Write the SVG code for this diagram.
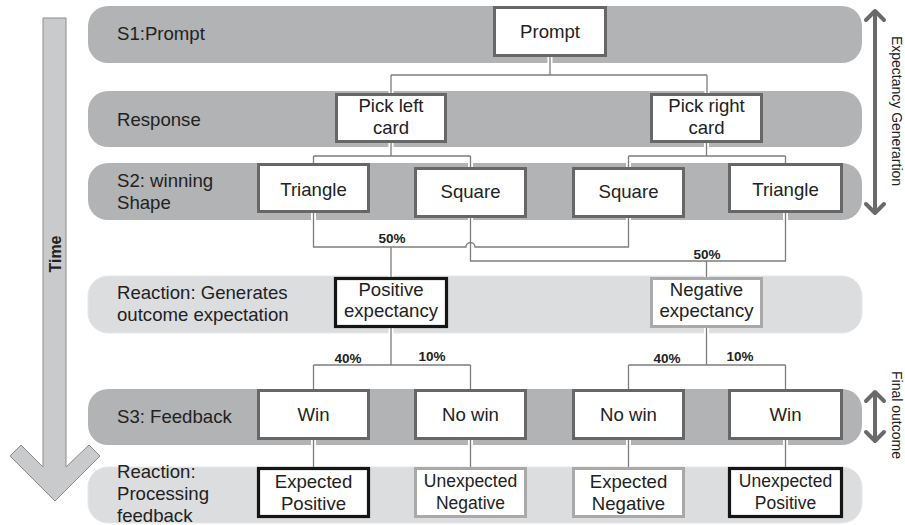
<svg xmlns="http://www.w3.org/2000/svg" width="905" height="525" viewBox="0 0 905 525">
<defs>
<style>
text{font-family:"Liberation Sans",Arial,sans-serif;fill:#222;}
.t{font-size:18.6px;}
.c{font-size:18.6px;text-anchor:middle;}
.cs{font-size:17.5px;text-anchor:middle;}
.p{font-size:13.5px;font-weight:bold;text-anchor:middle;}
.bd{fill:#b2b3b5;}
.bl{fill:#dcdddf;stroke:#e6e7e8;stroke-width:1;}
.n{fill:#fff;stroke:#676767;stroke-width:3;}
.nk{fill:#fff;stroke:#151515;stroke-width:3.2;}
.ng{fill:#fff;stroke:#a9a9a9;stroke-width:3;}
.halo{fill:none;stroke:#fff;stroke-width:5;}
.ln{fill:none;stroke:#7d7d7d;stroke-width:1.3;}
.da{fill:none;stroke:#6a6a6a;stroke-width:4;stroke-linecap:round;stroke-linejoin:round;}
</style>
</defs>
<rect width="905" height="525" fill="#fff"/>

<g id="bands">
<rect class="bd" x="88" y="6" width="774" height="57" rx="20"/>
<rect class="bd" x="88" y="91" width="774" height="56" rx="20"/>
<rect class="bd" x="88" y="163" width="774" height="57" rx="20"/>
<rect class="bl" x="88" y="276" width="774" height="57" rx="20"/>
<rect class="bd" x="88" y="389" width="774" height="56" rx="20"/>
<rect class="bl" x="88" y="467" width="774" height="56" rx="20"/>
<text class="t" x="117" y="40">S1:Prompt</text>
<text class="t" x="117" y="126">Response</text>
<text class="t" x="117" y="187">S2: winning</text>
<text class="t" x="117" y="209">Shape</text>
<text class="t" x="117" y="299">Reaction: Generates</text>
<text class="t" x="117" y="321">outcome expectation</text>
<text class="t" x="117" y="423">S3: Feedback</text>
<text class="t" x="117" y="478">Reaction:</text>
<text class="t" x="117" y="500">Processing</text>
<text class="t" x="117" y="522">feedback</text>
</g>

<g id="time-arrow">
<polygon points="43,18 66,18 66,467 89,445 100,456 55,501 10,456 21,445 43,467" fill="#c9cacc" stroke="#8c8c8c" stroke-width="1"/>
<text x="61" y="254" transform="rotate(-90 61 254)" style="font-size:16px;font-weight:bold;text-anchor:middle;">Time</text>
</g>

<g id="connectors">
<path class="halo" d="M550,57 V75 M391,75 H707 M391,75 V93 M707,75 V93 M391,143 V156 M313.5,156 H470.5 M313.5,156 V163 M470.5,156 V167 M706.5,143 V156 M628.5,156 H785.5 M628.5,156 V167 M785.5,156 V163 M313.5,213 V247 M628.5,218 V247 M391,247 V277 M470.5,218 V261 M785.5,213 V261 M470.5,261 H785.5 M706.5,261 V277 M391,328 V365 M313.5,365 H470.5 M313.5,365 V389 M470.5,365 V389 M706.5,328 V365 M628.5,365 H785.5 M628.5,365 V389 M785.5,365 V389 M313.5,440 V467 M470.5,440 V467 M628.5,440 V467 M785.5,440 V467"/>
<path class="ln" d="M550,57 V75 M391,75 H707 M391,75 V93 M707,75 V93 M391,143 V156 M313.5,156 H470.5 M313.5,156 V163 M470.5,156 V167 M706.5,143 V156 M628.5,156 H785.5 M628.5,156 V167 M785.5,156 V163 M313.5,213 V247 H466 A4.5,4.5 0 0 1 475,247 H628.5 V218 M391,247 V277 M470.5,218 V261 H785.5 V213 M706.5,261 V277 M391,328 V365 M313.5,365 H470.5 M313.5,365 V389 M470.5,365 V389 M706.5,328 V365 M628.5,365 H785.5 M628.5,365 V389 M785.5,365 V389 M313.5,440 V467 M470.5,440 V467 M628.5,440 V467 M785.5,440 V467"/>
<text class="p" x="392" y="243">50%</text>
<text class="p" x="707" y="259">50%</text>
<text class="p" x="348" y="363">40%</text>
<text class="p" x="432" y="361">10%</text>
<text class="p" x="667" y="363">40%</text>
<text class="p" x="740" y="361">10%</text>
</g>

<g id="prompt"><rect class="n" x="494.5" y="7.5" width="111" height="48"/><text class="c" x="550" y="38">Prompt</text></g>
<g id="pick-left"><rect class="n" x="336.5" y="94.5" width="109" height="47"/><text class="c" x="391" y="112">Pick left</text><text class="c" x="391" y="134">card</text></g>
<g id="pick-right"><rect class="n" x="651.5" y="94.5" width="110" height="47"/><text class="c" x="706.5" y="112">Pick right</text><text class="c" x="706.5" y="134">card</text></g>

<g id="triangle-left"><rect class="n" x="258.5" y="164.5" width="110" height="47"/><text class="c" x="313.5" y="196">Triangle</text></g>
<g id="square-left"><rect class="n" x="415.5" y="168.5" width="110" height="48"/><text class="c" x="470.5" y="198">Square</text></g>
<g id="square-right"><rect class="n" x="573.5" y="168.5" width="110" height="48"/><text class="c" x="628.5" y="198">Square</text></g>
<g id="triangle-right"><rect class="n" x="729.5" y="164.5" width="112" height="47"/><text class="c" x="785.5" y="196">Triangle</text></g>

<g id="positive-expectancy"><rect class="nk" x="335.5" y="278.5" width="111" height="48"/><text class="c" x="391" y="296">Positive</text><text class="c" x="391" y="317">expectancy</text></g>
<g id="negative-expectancy"><rect class="ng" x="651.5" y="278.5" width="110" height="48"/><text class="c" x="706.5" y="296">Negative</text><text class="c" x="706.5" y="317">expectancy</text></g>

<g id="win-left"><rect class="n" x="258.5" y="390.5" width="110" height="48"/><text class="c" x="313.5" y="421">Win</text></g>
<g id="nowin-left"><rect class="n" x="415.5" y="390.5" width="110" height="48"/><text class="c" x="470.5" y="421">No win</text></g>
<g id="nowin-right"><rect class="n" x="573.5" y="390.5" width="110" height="48"/><text class="c" x="628.5" y="421">No win</text></g>
<g id="win-right"><rect class="n" x="729.5" y="390.5" width="112" height="48"/><text class="c" x="785.5" y="421">Win</text></g>

<g id="expected-positive"><rect class="nk" x="258.5" y="468.5" width="110" height="48"/><text class="c" x="313.5" y="488">Expected</text><text class="c" x="313.5" y="510">Positive</text></g>
<g id="unexpected-negative"><rect class="ng" x="415.5" y="468.5" width="110" height="48"/><text class="cs" x="470.5" y="487">Unexpected</text><text class="cs" x="470.5" y="509">Negative</text></g>
<g id="expected-negative"><rect class="ng" x="573.5" y="468.5" width="110" height="48"/><text class="c" x="628.5" y="488">Expected</text><text class="c" x="628.5" y="510">Negative</text></g>
<g id="unexpected-positive"><rect class="nk" x="729.5" y="468.5" width="112" height="48"/><text class="cs" x="785.5" y="487">Unexpected</text><text class="cs" x="785.5" y="509">Positive</text></g>

<g id="expectancy-arrow">
<path class="da" d="M875,11 V213 M866,20 L875,11 L884,20 M866,204 L875,213 L884,204"/>
<text x="892" y="111" transform="rotate(90 892 111)" style="font-size:14px;text-anchor:middle;">Expectancy Generartion</text>
</g>
<g id="final-arrow">
<path class="da" d="M875,392 V441 M866,401 L875,392 L884,401 M866,432 L875,441 L884,432"/>
<text x="892" y="415" transform="rotate(90 892 415)" style="font-size:14px;text-anchor:middle;">Final outcome</text>
</g>
</svg>
